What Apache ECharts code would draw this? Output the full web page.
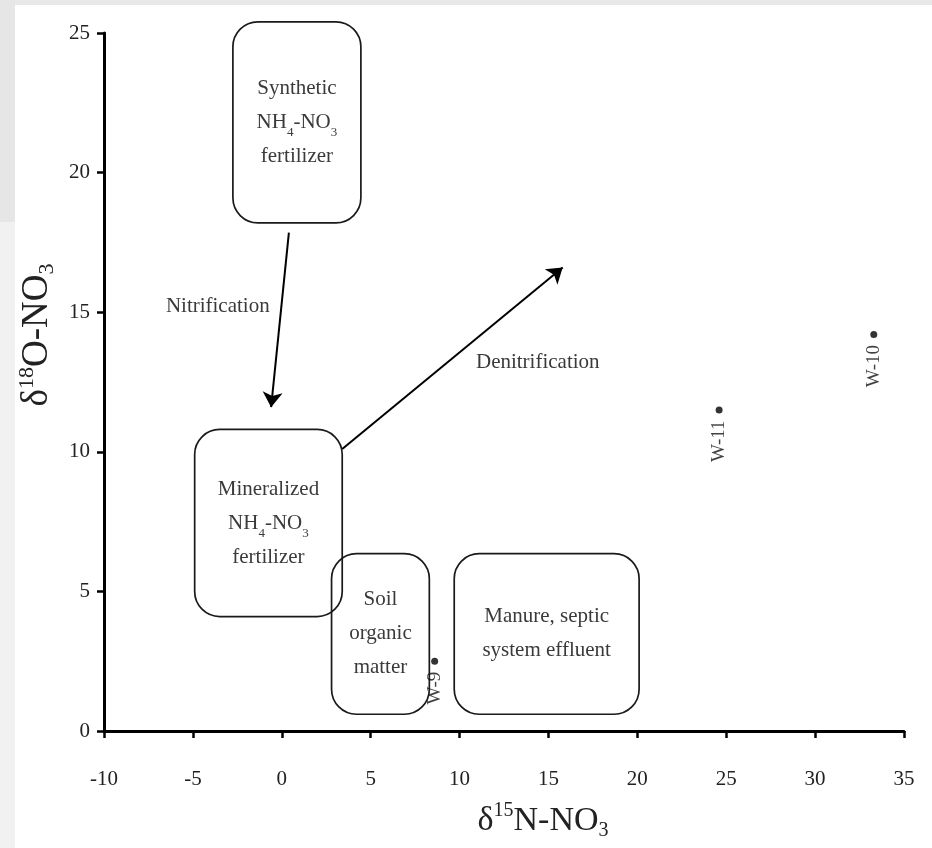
<!DOCTYPE html>
<html><head><meta charset="utf-8">
<script src="https://cdn.jsdelivr.net/npm/echarts@6/dist/echarts.min.js"></script>
<style>html,body{margin:0;padding:0;background:#fff}#c{width:932px;height:848px}</style>
</head><body><div id="c"></div>
<script>
// ---- data ----
const xMin = -10, xMax = 35, xStep = 5;
const yMin = 0, yMax = 25, yStep = 5;

const sampleNames = ['W-9', 'W-10', 'W-11'];
const sampleN15 = [8.6, 33.3, 24.6];
const sampleO18 = [2.5, 14.2, 11.5];

const boxLabels = [
  'Synthetic\n{n|NH}{s|4}{n|-NO}{s|3}\nfertilizer',
  'Mineralized\n{n|NH}{s|4}{n|-NO}{s|3}\nfertilizer',
  'Soil\norganic\nmatter',
  'Manure, septic\nsystem effluent'
];
const boxXFrom = [-2.75, -4.9, 2.8, 9.7];
const boxXTo = [4.45, 3.4, 8.3, 20.1];
const boxYFrom = [18.2, 4.1, 0.6, 0.6];
const boxYTo = [25.4, 10.8, 6.35, 6.35];

const processNames = ['Nitrification', 'Denitrification'];
const arrowStart = [[0.4, 17.85], [3.4, 10.1]];
const arrowEnd = [[-0.6, 11.6], [15.8, 16.6]];
const processLabelX = [-3.6, 14.4];
const processLabelY = [15.2, 13.2];

// ---- chart ----
const FONT = '"Liberation Serif", "Times New Roman", serif';
const TXT = '#3a3a3a';
const subRich = {
  n: { fontSize: 21, lineHeight: 34, fontFamily: FONT, color: TXT, fill: TXT },
  s: { fontSize: 13, lineHeight: 23, verticalAlign: 'bottom', fontFamily: FONT, color: TXT, fill: TXT }
};

const chart = echarts.init(document.getElementById('c'));
chart.setOption({
  animation: false,
  backgroundColor: '#ffffff',
  graphic: [
    { type: 'rect', left: 0, top: 0, shape: { width: 932, height: 5 }, style: { fill: '#e8e8e8' }, silent: true },
    { type: 'rect', left: 0, top: 0, shape: { width: 15, height: 222 }, style: { fill: '#e6e6e6' }, silent: true },
    { type: 'rect', left: 0, top: 222, shape: { width: 15, height: 626 }, style: { fill: '#f1f1f1' }, silent: true }
  ],
  grid: { left: 104, right: 28, top: 33, bottom: 117, containLabel: false },
  xAxis: {
    type: 'value', min: xMin, max: xMax, interval: xStep,
    splitLine: { show: false },
    axisLine: { onZero: false, lineStyle: { color: '#000', width: 3 } },
    axisTick: { show: true, length: 7, lineStyle: { color: '#000', width: 2.5 } },
    axisLabel: { margin: 38, fontSize: 21, fontFamily: FONT, color: '#222' },
    name: '{d|δ}{sup|15}{d|N-NO}{sub|3}',
    nameLocation: 'middle', nameGap: 70,
    nameTextStyle: {
      padding: [0, 0, 0, 78],
      rich: {
        d: { fontSize: 34, lineHeight: 40, fontFamily: FONT, color: '#222' },
        sup: { fontSize: 20, lineHeight: 24, verticalAlign: 'top', fontFamily: FONT, color: '#222' },
        sub: { fontSize: 20, lineHeight: 22, verticalAlign: 'bottom', fontFamily: FONT, color: '#222' }
      }
    }
  },
  yAxis: {
    type: 'value', min: yMin, max: yMax, interval: yStep,
    splitLine: { show: false },
    axisLine: { onZero: false, lineStyle: { color: '#000', width: 3 } },
    axisTick: { show: true, length: 7, lineStyle: { color: '#000', width: 2.5 } },
    axisLabel: { margin: 14, fontSize: 21, fontFamily: FONT, color: '#222' },
    name: '{d|δ}{sup|18}{d|O-NO}{sub|3}',
    nameLocation: 'middle', nameGap: 38,
    nameTextStyle: {
      padding: [0, 0, 0, 94],
      rich: {
        d: { fontSize: 37, lineHeight: 42, fontFamily: FONT, color: '#222' },
        sup: { fontSize: 22, lineHeight: 26, verticalAlign: 'top', fontFamily: FONT, color: '#222' },
        sub: { fontSize: 22, lineHeight: 24, verticalAlign: 'bottom', fontFamily: FONT, color: '#222' }
      }
    }
  },
  series: [
    {
      name: 'Source fields',
      type: 'custom',
      clip: false,
      data: boxLabels.map((t, i) => [boxXFrom[i], boxXTo[i], boxYFrom[i], boxYTo[i]]),
      renderItem: function (params, api) {
        const p1 = api.coord([api.value(0), api.value(3)]);
        const p2 = api.coord([api.value(1), api.value(2)]);
        const w = p2[0] - p1[0], h = p2[1] - p1[1];
        return {
          type: 'group',
          children: [
            { type: 'rect', shape: { x: p1[0], y: p1[1], width: w, height: h, r: 25 },
              style: { fill: 'none', stroke: '#1a1a1a', lineWidth: 1.7 } },
            { type: 'text', x: p1[0] + w / 2, y: p1[1] + h / 2,
              style: { text: boxLabels[params.dataIndex], align: 'center', verticalAlign: 'middle',
                fontSize: 21, lineHeight: 34, fontFamily: FONT, fill: TXT, rich: subRich } }
          ]
        };
      }
    },
    {
      name: 'Processes',
      type: 'lines',
      coordinateSystem: 'cartesian2d',
      symbol: ['none', 'arrow'],
      symbolSize: 15,
      lineStyle: { color: '#000', width: 2, opacity: 1 },
      data: arrowStart.map((s, i) => ({ name: processNames[i], coords: [s, arrowEnd[i]] }))
    },
    {
      name: 'Process labels',
      type: 'custom',
      clip: false,
      data: processNames.map((n, i) => [processLabelX[i], processLabelY[i]]),
      renderItem: function (params, api) {
        const p = api.coord([api.value(0), api.value(1)]);
        return { type: 'text', x: p[0], y: p[1],
          style: { text: processNames[params.dataIndex], align: 'center', verticalAlign: 'middle',
            fontSize: 21, fontFamily: FONT, fill: TXT } };
      }
    },
    {
      name: 'Samples',
      type: 'scatter',
      symbol: 'circle',
      symbolSize: 7,
      itemStyle: { color: '#000' },
      data: sampleNames.map((n, i) => ({ name: n, value: [sampleN15[i], sampleO18[i]] })),
      label: {
        show: true, formatter: '{b}', position: 'bottom', distance: 7,
        rotate: 90, align: 'right', verticalAlign: 'middle',
        fontSize: 19, fontFamily: FONT, color: '#111'
      }
    }
  ]
});
</script></body></html>
